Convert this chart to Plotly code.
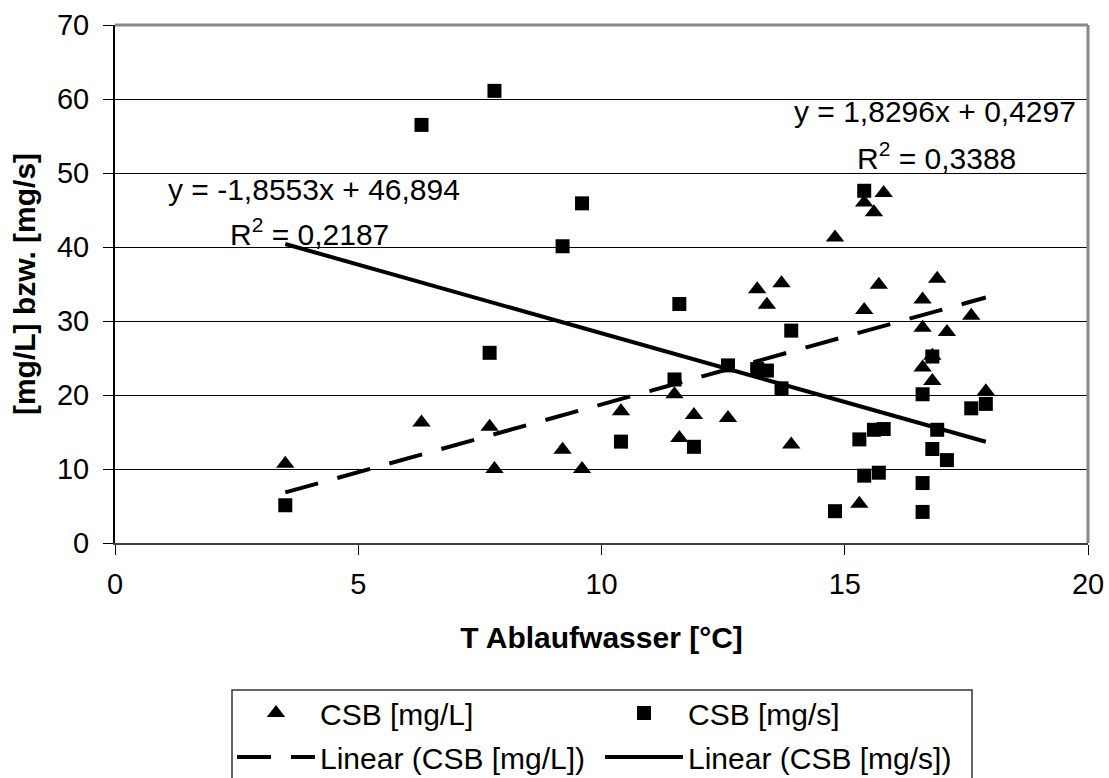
import numpy as np
import plotly.graph_objects as go

# ---- data ----
temp_mgL = [3.5, 6.3, 7.7, 7.8, 9.2, 9.6, 10.4, 11.5, 11.6, 11.9, 12.6, 13.2, 13.4, 13.7, 13.9, 14.8,
            15.4, 15.6, 15.8, 15.7, 15.4, 15.3, 16.6, 16.9, 16.6, 17.1, 17.6, 16.8, 16.6, 16.8, 17.9]
csb_mgL = [10.7, 16.3, 15.7, 10.0, 12.6, 10.0, 17.8, 20.1, 14.2, 17.3, 16.9, 34.3, 32.2, 35.1, 13.3, 41.3,
           46.0, 44.7, 47.3, 34.9, 31.5, 5.3, 32.9, 35.7, 29.1, 28.5, 30.7, 25.3, 23.7, 21.9, 20.5]

temp_mgs = [3.5, 6.3, 7.8, 9.6, 9.2, 7.7, 10.4, 11.6, 11.5, 11.9, 12.6, 13.2, 13.4, 13.7, 13.9, 15.4,
            15.3, 15.6, 15.8, 15.4, 15.7, 14.8, 16.6, 16.8, 16.9, 16.8, 17.1, 16.6, 16.6, 17.6, 17.9]
csb_mgs = [5.1, 56.5, 61.1, 45.9, 40.1, 25.7, 13.7, 32.3, 22.1, 13.0, 24.0, 23.5, 23.3, 20.9, 28.7, 47.6,
           14.0, 15.3, 15.4, 9.1, 9.5, 4.3, 20.1, 25.2, 15.3, 12.7, 11.2, 8.1, 4.2, 18.2, 18.8]

# trend line coefficients (slope, intercept) as printed on the chart
trend_mgL = (1.8296, 0.4297)
trend_mgs = (-1.8553, 46.894)
eq_mgL = ["y = 1,8296x + 0,4297", "R<sup>2</sup> = 0,3388"]
eq_mgs = ["y = -1,8553x + 46,894", "R<sup>2</sup> = 0,2187"]

x_ticks = [0, 5, 10, 15, 20]
y_ticks = [0, 10, 20, 30, 40, 50, 60, 70]

names = ["CSB [mg/L]", "CSB [mg/s]", "Linear (CSB [mg/L])", "Linear (CSB [mg/s])"]
x_title = "T Ablaufwasser [°C]"
y_title = "[mg/L] bzw. [mg/s]"

# ---- layout constants ----
FONT = "Liberation Sans, Arial, sans-serif"
W, H = 1109, 778
ML, MR, MT, MB = 115, 21, 25, 235
PW, PH = W - ML - MR, H - MT - MB


def px2paper_x(px):
    return (px - ML) / PW


def px2paper_y(py):
    return (H - MB - py) / PH


def trend(xs, coef):
    xr = np.array([min(xs), max(xs)])
    return xr, coef[0] * xr + coef[1]


fig = go.Figure()

fig.add_trace(go.Scatter(x=temp_mgL, y=csb_mgL, mode="markers", name=names[0],
                         marker=dict(symbol="triangle-up", size=16, color="black"),
                         legend="legend"))
fig.add_trace(go.Scatter(x=temp_mgs, y=csb_mgs, mode="markers", name=names[1],
                         marker=dict(symbol="square", size=14, color="black"),
                         legend="legend"))

tx, ty = trend(temp_mgL, trend_mgL)
fig.add_trace(go.Scatter(x=tx, y=ty, mode="lines", name=names[2],
                         line=dict(color="black", width=4, dash="34px,20px"),
                         legend="legend2"))
sx, sy = trend(temp_mgs, trend_mgs)
fig.add_trace(go.Scatter(x=sx, y=sy, mode="lines", name=names[3],
                         line=dict(color="black", width=4),
                         legend="legend2"))

# equation labels
ann_font = dict(size=30, color="black", family=FONT)
fig.add_annotation(x=4.1, y=47.8, xref="x", yref="y", text=eq_mgs[0], showarrow=False,
                   font=ann_font, xanchor="center", yanchor="middle")
fig.add_annotation(x=4.0, y=42.0, xref="x", yref="y", text=eq_mgs[1], showarrow=False,
                   font=ann_font, xanchor="center", yanchor="middle")
fig.add_annotation(x=16.86, y=58.3, xref="x", yref="y", text=eq_mgL[0], showarrow=False,
                   font=ann_font, xanchor="center", yanchor="middle")
fig.add_annotation(x=16.88, y=52.3, xref="x", yref="y", text=eq_mgL[1], showarrow=False,
                   font=ann_font, xanchor="center", yanchor="middle")

# plot area border (top / right in grey)
fig.add_shape(type="line", xref="paper", yref="paper", x0=0, x1=1, y0=1, y1=1,
              line=dict(color="#888888", width=3), layer="above")
fig.add_shape(type="line", xref="paper", yref="paper", x0=1, x1=1, y0=0, y1=1,
              line=dict(color="#888888", width=3), layer="above")

# legend frame
fig.add_shape(type="rect", xref="paper", yref="paper",
              x0=px2paper_x(232), x1=px2paper_x(972), y0=px2paper_y(690), y1=px2paper_y(800),
              line=dict(color="#333333", width=1.5), fillcolor="rgba(0,0,0,0)")

legend_common = dict(orientation="h", xref="paper", yref="paper", xanchor="left", yanchor="middle",
                     font=dict(size=30, color="black", family=FONT), bgcolor="rgba(0,0,0,0)",
                     borderwidth=0, itemwidth=78, entrywidth=275, entrywidthmode="pixels",
                     itemclick=False, itemdoubleclick=False)

fig.update_layout(
    width=W, height=H,
    margin=dict(l=ML, r=MR, t=MT, b=MB, autoexpand=False),
    paper_bgcolor="white", plot_bgcolor="white",
    font=dict(family=FONT, size=29, color="black"),
    showlegend=True,
    legend=dict(x=px2paper_x(232), y=px2paper_y(713), **legend_common),
    legend2=dict(x=px2paper_x(232), y=px2paper_y(757), **legend_common),
    xaxis=dict(range=[0, 20], tickvals=x_ticks, ticks="outside", ticklen=10, tickwidth=1,
               tickcolor="black", showline=True, linecolor="#404040", linewidth=2,
               showgrid=False, zeroline=False, tickfont=dict(size=29, family=FONT),
               ticklabelstandoff=4,
               title=dict(text="<b>" + x_title + "</b>", font=dict(size=30, family=FONT), standoff=28)),
    yaxis=dict(range=[0, 70], tickvals=y_ticks, ticks="outside", ticklen=10, tickwidth=1,
               tickcolor="black", showline=True, linecolor="black", linewidth=2,
               showgrid=True, gridcolor="black", gridwidth=1, zeroline=False,
               tickfont=dict(size=29, family=FONT), ticklabelstandoff=8,
               title=dict(text="<b>" + y_title + "</b>", font=dict(size=30, family=FONT), standoff=12)),
)

fig.write_html("out.html")
